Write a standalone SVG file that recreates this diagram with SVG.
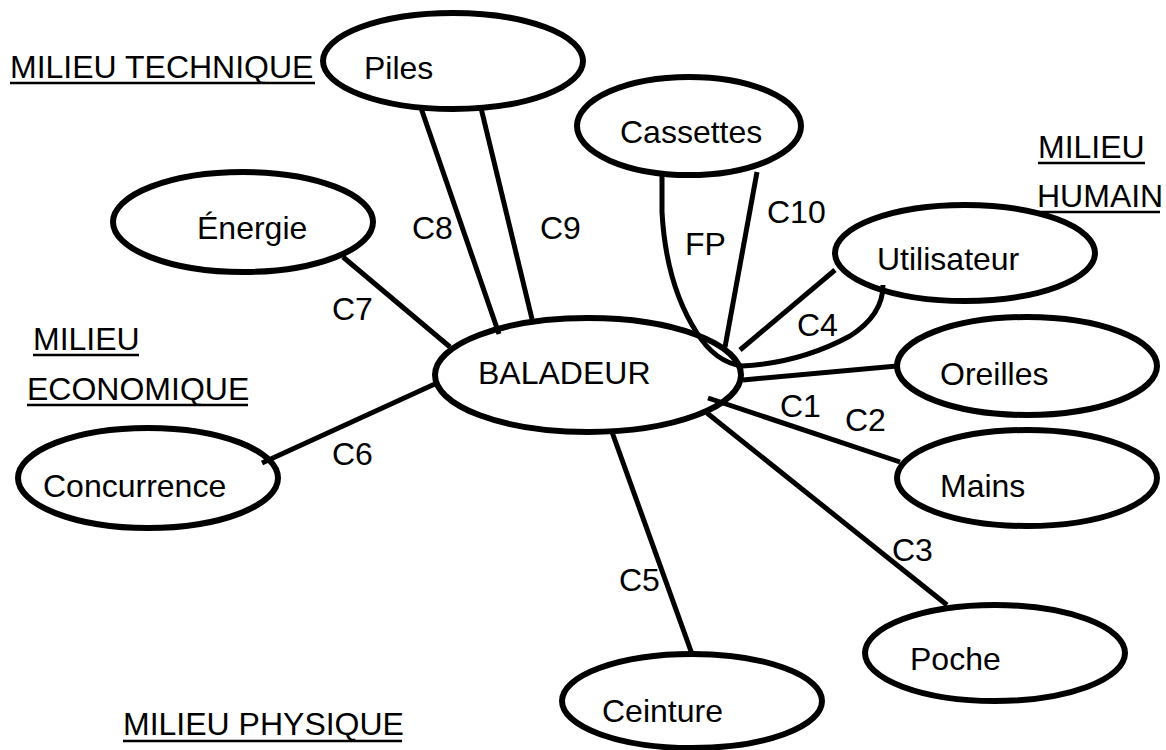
<svg xmlns="http://www.w3.org/2000/svg" width="1166" height="750" viewBox="0 0 1166 750">
<style>
text{font-family:"Liberation Sans",Arial,sans-serif;font-size:32px;fill:#000}
.node ellipse{fill:#fff;stroke:#000;stroke-width:6}
.conn{fill:none;stroke:#000;stroke-width:5}
.ul{stroke:#000;stroke-width:2.5}
</style>
<rect width="1166" height="750" fill="#fff"/>
<g id="nodes">
<g id="piles" class="node"><ellipse cx="453" cy="61" rx="130" ry="48"/><text x="364" y="79">Piles</text></g>
<g id="cassettes" class="node"><ellipse cx="689" cy="126" rx="112" ry="49"/><text x="620" y="143">Cassettes</text></g>
<g id="energie" class="node"><ellipse cx="243" cy="222" rx="130" ry="50"/><text x="197" y="239">Énergie</text></g>
<g id="utilisateur" class="node"><ellipse cx="965" cy="253" rx="130" ry="48"/><text x="877" y="270">Utilisateur</text></g>
<g id="oreilles" class="node"><ellipse cx="1027" cy="366" rx="130" ry="49"/><text x="940" y="385">Oreilles</text></g>
<g id="mains" class="node"><ellipse cx="1027" cy="478" rx="130" ry="48"/><text x="940" y="497">Mains</text></g>
<g id="concurrence" class="node"><ellipse cx="148" cy="478" rx="130" ry="50"/><text x="43" y="497">Concurrence</text></g>
<g id="baladeur" class="node"><ellipse cx="588" cy="375" rx="153" ry="57"/><text x="478" y="384">BALADEUR</text></g>
<g id="ceinture" class="node"><ellipse cx="692" cy="701" rx="130" ry="47"/><text x="602" y="722">Ceinture</text></g>
<g id="poche" class="node"><ellipse cx="995" cy="653" rx="130" ry="48"/><text x="910" y="670">Poche</text></g>
</g>
<g id="connectors">
<line class="conn" x1="421" y1="108" x2="499" y2="334"/>
<line class="conn" x1="481" y1="108" x2="532" y2="319"/>
<line class="conn" x1="757" y1="172" x2="725" y2="347"/>
<path class="conn" d="M662,173 L662,212 Q666,285 697,333 Q715,362 742,366 Q800,363 850,336 Q883,315 883,285"/>
<line class="conn" x1="740" y1="350" x2="835" y2="270"/>
<line class="conn" x1="743" y1="380" x2="897" y2="366"/>
<line class="conn" x1="708" y1="398" x2="900" y2="462"/>
<line class="conn" x1="707" y1="413" x2="947" y2="605"/>
<line class="conn" x1="612" y1="432" x2="692" y2="654"/>
<line class="conn" x1="343" y1="257" x2="450" y2="347"/>
<line class="conn" x1="262" y1="463" x2="437" y2="383"/>
</g>
<g id="labels">
<text x="412" y="239">C8</text>
<text x="540" y="239">C9</text>
<text x="767" y="223">C10</text>
<text x="685" y="255">FP</text>
<text x="797" y="336">C4</text>
<text x="332" y="320">C7</text>
<text x="332" y="465">C6</text>
<text x="780" y="417">C1</text>
<text x="845" y="431">C2</text>
<text x="892" y="561">C3</text>
<text x="619" y="591">C5</text>
</g>
<g id="milieux">
<text x="10" y="78">MILIEU TECHNIQUE</text><line class="ul" x1="10" y1="83" x2="315" y2="83"/>
<text x="1038" y="158">MILIEU</text><line class="ul" x1="1038" y1="163" x2="1145" y2="163"/>
<text x="1037" y="207">HUMAIN</text><line class="ul" x1="1037" y1="212" x2="1160" y2="212"/>
<text x="33" y="350">MILIEU</text><line class="ul" x1="33" y1="355" x2="139" y2="355"/>
<text x="27" y="400">ECONOMIQUE</text><line class="ul" x1="27" y1="405" x2="248" y2="405"/>
<text x="123" y="735">MILIEU PHYSIQUE</text><line class="ul" x1="123" y1="741" x2="402" y2="741"/>
</g>
</svg>
